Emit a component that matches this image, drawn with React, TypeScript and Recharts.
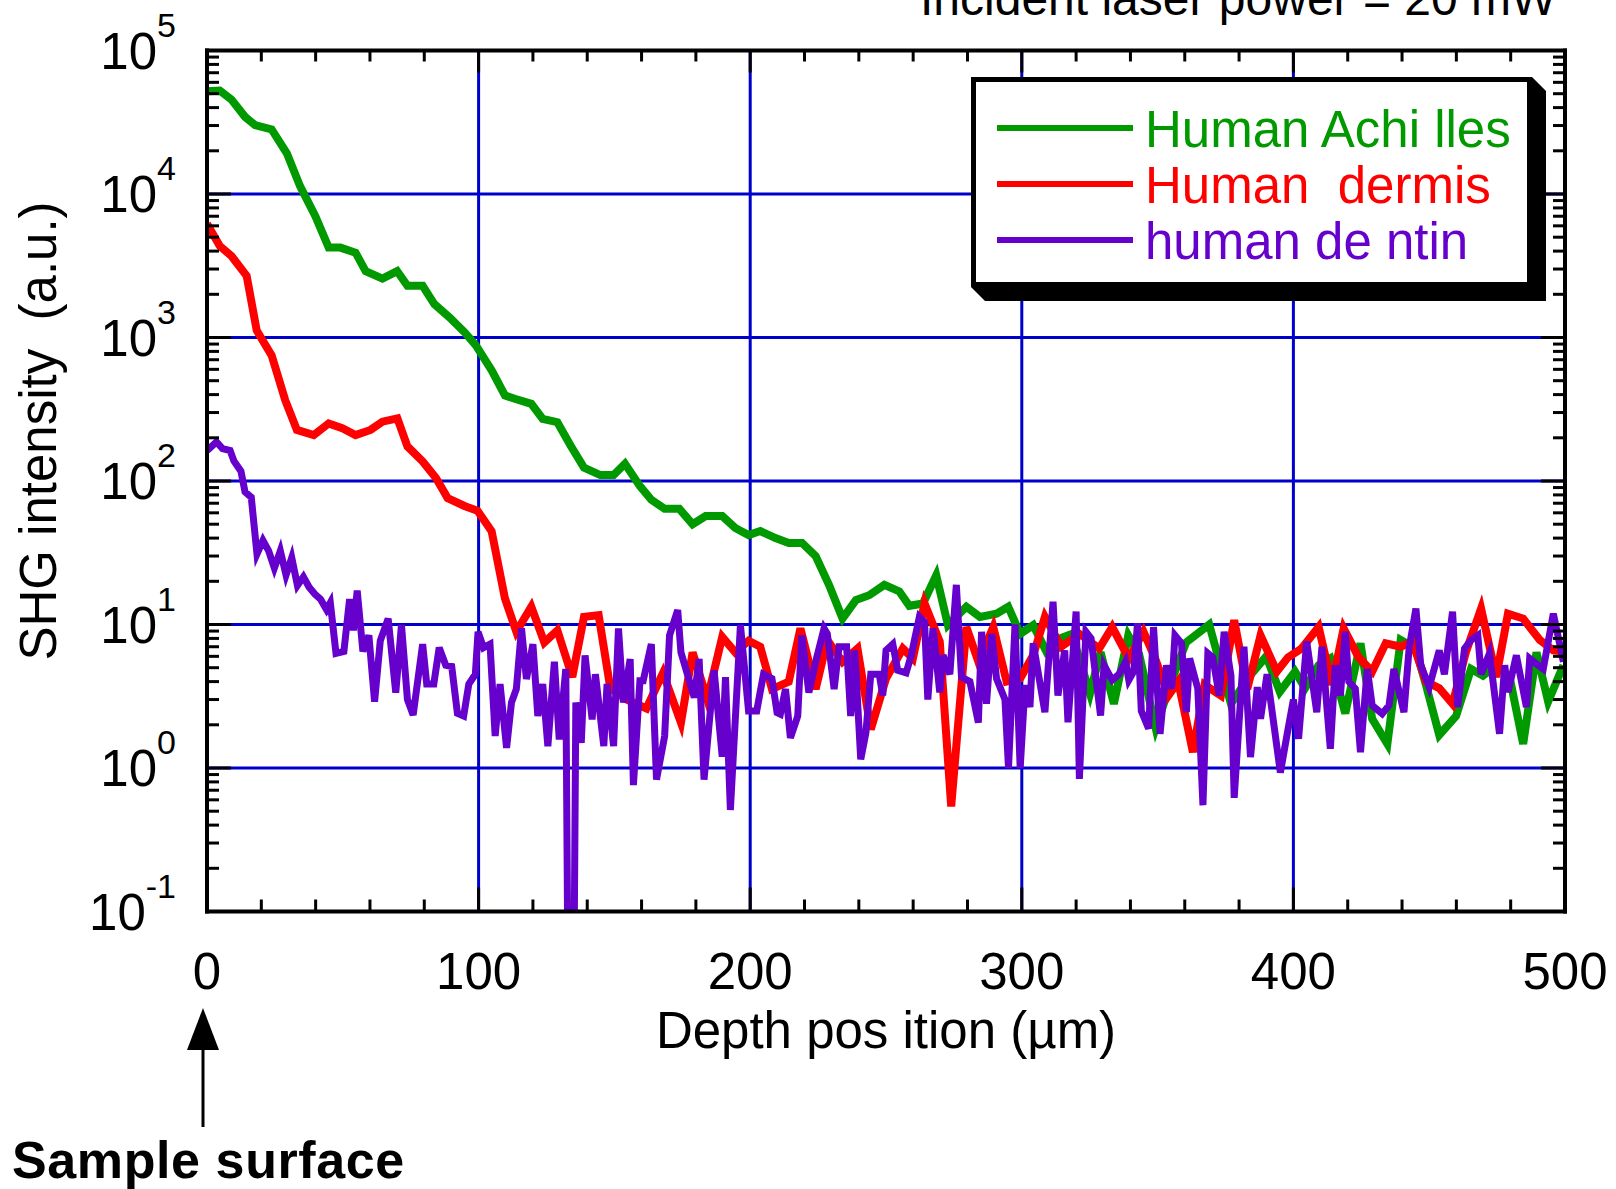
import { LineChart, Line, XAxis, YAxis, CartesianGrid, Legend } from 'recharts';

const FONT = '"Liberation Sans", Arial, Helvetica, sans-serif';

// depth position (µm) and SHG intensity (a.u.)
const achillesDepth = [
  0, 4.7, 9, 14, 17.7, 23.8, 29.4, 34.3, 39.9, 44.8,
  49.1, 54.7, 58.4, 64.6, 70, 73.8, 79.4, 83.7, 89.3, 94.8,
  99, 104.8, 109.7, 113.3, 119.4, 123.6, 129, 133.9, 138.8, 144.8,
  149.7, 153.9, 159.4, 163.6, 168.5, 173.9, 178.8, 183.6, 189.7, 194.5,
  199.4, 203.7, 209.3, 214.2, 219.1, 224.1, 229, 234, 238.9, 243.8,
  249.4, 254.9, 258.6, 263.6, 268.5, 272.8, 279.6, 284.6, 290.7, 295,
  299.4, 304.2, 309, 314, 318.4, 325.1, 329, 333.9, 339.2, 343.2,
  349.3, 355, 360.5, 369, 377, 384, 390, 395, 400.6, 404.3,
  409.3, 413.6, 419.1, 424.7, 429, 434.6, 439.5, 445, 448.8, 453.7,
  459.9, 465.4, 469.8, 474.7, 479.6, 484.6, 489.5, 493.8, 499.4,
];
const achillesShg = [
  52000, 52500, 45500, 34500, 30200, 28200, 19200, 11300, 7000, 4230,
  4230, 3900, 2900, 2570, 2900, 2290, 2290, 1710, 1380, 1090,
  880, 590, 395, 374, 345, 271, 257, 176, 124, 110,
  110, 132, 92, 74, 64, 64, 50, 57, 57, 47,
  42, 44.8, 40, 37, 37, 30, 18.9, 11, 14.8, 16,
  18.9, 17, 13.5, 14, 22, 9.9, 13.3, 11.3, 11.9, 13.3,
  8.6, 9.9, 6.5, 8.0, 8.6, 3.3, 6.4, 2.8, 8.4, 6.2,
  1.9, 4.0, 7.5, 10, 2.8, 4.4, 6.0, 3.4, 4.7, 3.6,
  5.2, 5.8, 2.4, 7.4, 2.2, 1.47, 7.8, 6.8, 3.8, 1.7,
  2.3, 4.9, 4.4, 5.2, 4.3, 1.47, 6.4, 2.9, 5.2,
];

const dermisDepth = [
  0, 4.7, 9, 14.6, 18.3, 23.8, 28.8, 33.1, 39.3, 44.8,
  49.8, 54.7, 60.2, 64.6, 70.1, 73.8, 79.4, 84.3, 88.6, 94.8,
  99.6, 104.8, 109.7, 113.9, 119.4, 124.2, 129, 134.5, 138.8, 144.2,
  148.5, 154.5, 161.8, 167.9, 174.5, 178.8, 184.2, 189.7, 194.5, 199.4,
  203.7, 208, 214.2, 218.5, 224.1, 228.4, 234, 239.5, 244.4, 250,
  256.2, 259.9, 264.2, 269.8, 274, 279.6, 284, 289.5, 294.4, 299.4,
  304.2, 308.5, 314.5, 321.2, 328.5, 333.3, 339.4, 344.8, 349.1, 354,
  357.6, 363, 367.3, 373.3, 378.2, 383, 387.9, 393.9, 398, 403,
  409.3, 414.2, 418.5, 424, 429, 434, 439.5, 443.8, 448.8, 453.7,
  458.6, 463.6, 469.1, 474.7, 479, 484.6, 490.7, 495.7, 499.4,
];
const dermisShg = [
  6200, 4340, 3700, 2690, 1120, 750, 366, 227, 209, 252,
  233, 209, 227, 259, 273, 174, 137, 105, 76, 67,
  62, 44.6, 15.2, 8.9, 13.3, 7.5, 9.1, 4.3, 11.3, 11.6,
  3.6, 3.0, 2.6, 4.6, 2.07, 6.4, 3.0, 8.2, 6.4, 7.7,
  7.0, 3.55, 4.0, 9.4, 3.55, 7.8, 5.5, 6.8, 1.86, 4.2,
  6.8, 5.8, 14, 7.6, 0.54, 9.6, 5.5, 9.6, 4.0, 4.2,
  6.1, 11.3, 7.0, 8.6, 6.8, 9.6, 5.8, 8.9, 5.8, 3.2,
  4.0, 1.29, 3.8, 3.2, 10.7, 3.55, 8.4, 4.7, 5.9, 6.8,
  9.6, 3.8, 9.4, 5.9, 4.7, 7.4, 7.0, 7.6, 4.0, 3.6,
  2.8, 6.5, 12.9, 4.3, 11.9, 11, 7.8, 6.6, 6.5,
];

const dentinDepth = [
  0, 3.5, 5.7, 8.5, 9.9, 12.5, 14, 16.3, 18.4, 20.6,
  22.7, 24.8, 27, 29.1, 31.2, 33.3, 35.5, 37.6, 39.7, 41.8,
  44, 45.4, 47.5, 50.4, 52.5, 53.9, 55.3, 57.4, 59.6, 61.7,
  63.8, 66.7, 69.5, 71.6, 73.8, 75.9, 79.4, 80.9, 83.5, 85.5,
  87.9, 90.1, 92.2, 94.5, 96.4, 98.8, 99.8, 101.8, 104.2, 106.1,
  107.9, 110.3, 112.1, 113.9, 115.8, 117.6, 120, 121.8, 123.6, 125.5,
  127.9, 129.7, 132.1, 133.1, 134.9, 135.8, 137.8, 139.2, 141.8, 143,
  146.1, 147.3, 149.7, 151.5, 153.3, 155.8, 157, 159.4, 160.6, 163.6,
  165.5, 168.5, 170.3, 173.3, 174.5, 179.4, 181.2, 183, 186.7, 189.7,
  190.9, 192.7, 196.4, 199.4, 202.4, 204.9, 208, 209.9, 211.1, 213,
  214.8, 217.5, 219, 221.6, 224.1, 227.2, 228.4, 230.9, 232.7, 235.5,
  237, 238.5, 240.7, 242.6, 244.4, 247.5, 248.8, 250, 252.5, 254.3,
  257.4, 259.3, 262.3, 264.2, 265.4, 267.3, 269.8, 271, 273.5, 275.9,
  277.8, 280.9, 284, 285.2, 287, 288.9, 290.7, 293.8, 295.1, 297.5,
  299.4, 301.2, 303, 304.2, 308.5, 311.5, 313.3, 315.8, 317, 320,
  321.2, 323.6, 325.5, 329, 330.3, 333.3, 335.8, 338.2, 339.4, 341.2,
  342.6, 344, 346.7, 348.5, 350.9, 353.3, 355.2, 356.4, 358.8, 360.6,
  361.8, 364.8, 366.7, 368.5, 370.3, 372.7, 374.5, 377, 378.2, 381.8,
  384.2, 386.7, 387.9, 390.3, 395.2, 397.6, 400, 401.9, 404.9, 408.6,
  410.5, 413.6, 415.4, 417.3, 419.1, 420.4, 422.8, 424.7, 427.2, 429,
  432.7, 435.2, 437, 440.7, 442.6, 445.1, 446.9, 450, 453.7, 455.6,
  458.6, 460.5, 463, 465.4, 467.9, 469.1, 472.2, 475.9, 477.8, 479,
  482.1, 485.8, 487, 490.1, 492, 495.7, 499.4,
];
const dentinShg = [
  163, 187, 168, 163, 138, 117, 84, 77, 31, 38.5,
  32.6, 24.7, 32.6, 22.1, 29.2, 18.7, 21.5, 18.2, 16.3, 15,
  12.7, 14.2, 6.3, 6.5, 15, 9.1, 17.2, 6.5, 8.4, 2.9,
  7.7, 11, 3.35, 9.9, 3.0, 2.34, 7.3, 3.85, 3.85, 6.9,
  5.2, 5.1, 2.4, 2.3, 3.85, 4.5, 8.9, 6.9, 7.3, 1.67,
  3.85, 1.38, 2.86, 3.55, 9.4, 4.17, 7.3, 2.3, 3.85, 1.42,
  5.5, 1.58, 4.9, 0.01, 0.01, 2.86, 1.5, 6.1, 2.18, 4.5,
  1.42, 3.85, 1.42, 9.4, 2.86, 5.75, 0.76, 4.06, 4.06, 7.3,
  0.83, 1.67, 8.4, 12.6, 6.4, 3.1, 5.75, 0.83, 4.8, 1.2,
  4.3, 0.51, 9.9, 2.5, 2.5, 4.5, 4.2, 2.43, 2.37, 3.55,
  1.62, 2.3, 8.4, 3.36, 5.5, 9.4, 8.6, 3.55, 7.0, 7.0,
  2.3, 6.6, 1.15, 1.76, 4.5, 4.5, 3.2, 6.6, 7.3, 4.8,
  4.6, 6.1, 11.3, 10.4, 3.0, 9.4, 3.36, 6.1, 4.5, 18.9,
  4.3, 4.0, 2.07, 8.9, 2.8, 8.6, 4.2, 3.0, 1.0, 10,
  1.0, 3.77, 2.66, 7.4, 2.45, 14.4, 3.2, 6.6, 2.08, 12.3,
  0.84, 8.9, 8.0, 2.32, 5.2, 4.1, 4.5, 5.5, 4.1, 4.7,
  10.2, 2.5, 1.88, 9.6, 1.73, 5.2, 3.57, 8.4, 7.4, 2.45,
  5.8, 3.57, 0.55, 6.3, 5.9, 3.2, 8.9, 4.4, 0.62, 7.0,
  1.19, 3.66, 2.2, 4.5, 0.93, 1.68, 3.0, 1.6, 7.6, 2.45,
  7.0, 1.36, 5.2, 3.2, 8.9, 4.0, 3.57, 1.29, 4.9, 2.73,
  2.39, 2.73, 4.9, 2.45, 6.8, 12.9, 5.2, 3.66, 6.6, 4.5,
  12.3, 2.66, 6.8, 7.8, 8.4, 4.5, 6.3, 1.73, 5.2, 3.38,
  6.1, 2.66, 5.8, 5.2, 4.9, 11.9, 5.5,
];

// series names, in legend order
const seriesNames = ['Human Achi lles', 'Human  dermis', 'human de ntin'];

// axis ticks
const depthTicks = [
  0, 20, 40, 60, 80, 100, 120, 140, 160, 180, 200, 220, 240,
  260, 280, 300, 320, 340, 360, 380, 400, 420, 440, 460, 480, 500,
];
const depthGrid = [100, 200, 300, 400];
const decades = [0.1, 1, 10, 100, 1000, 10000, 100000];
const decadeGrid = [1, 10, 100, 1000, 10000];
const minorSteps = [2, 3, 4, 5, 6, 7, 8, 9];
const shgTicks = [
  ...decades,
  ...decades.slice(0, -1).flatMap((d) => minorSteps.map((m) => d * m)),
].sort((a, b) => a - b);

const zip = (xs: number[], ys: number[]) => xs.map((x, i) => ({ depth: x, shg: ys[i] }));
const achilles = zip(achillesDepth, achillesShg);
const dermis = zip(dermisDepth, dermisShg);
const dentin = zip(dentinDepth, dentinShg);

const GREEN = '#009900';
const RED = '#ff0000';
const PURPLE = '#6600cc';
const GRID = '#0000cc';

const isDecade = (v: number) => Math.abs(Math.log10(v) - Math.round(Math.log10(v))) < 1e-6;
const isEdgeY = (v: number) => v < 0.1001 || v > 99999;

function BottomTick({ x, y, payload }: any) {
  const v = payload.value;
  const major = v % 100 === 0;
  const edge = v === 0 || v === 500;
  return (
    <g>
      {!edge && <line x1={x} x2={x} y1={y} y2={y - (major ? 24 : 12)} stroke="#000" strokeWidth={3} />}
      {major && (
        <text x={x} y={y + 77} textAnchor="middle" fontSize={51} fontFamily={FONT} fill="#000">
          {v}
        </text>
      )}
    </g>
  );
}

function TopTick({ x, y, payload }: any) {
  const v = payload.value;
  if (v === 0 || v === 500) return <g />;
  const major = v % 100 === 0;
  return <line x1={x} x2={x} y1={y} y2={y + (major ? 22 : 11)} stroke="#000" strokeWidth={3} />;
}

function LeftTick({ x, y, payload }: any) {
  const v = payload.value;
  const major = isDecade(v);
  const exp = Math.round(Math.log10(v));
  return (
    <g>
      {!isEdgeY(v) && <line x1={x} x2={x + (major ? 24 : 12)} y1={y} y2={y} stroke="#000" strokeWidth={3} />}
      {major && (
        <text x={176} y={y + 18} textAnchor="end" fontSize={51} fontFamily={FONT} fill="#000">
          <tspan>10</tspan>
          <tspan dy={-32} fontSize={34}>{exp}</tspan>
        </text>
      )}
    </g>
  );
}

function RightTick({ x, y, payload }: any) {
  const v = payload.value;
  if (isEdgeY(v)) return <g />;
  const major = isDecade(v);
  return <line x1={x} x2={x - (major ? 24 : 12)} y1={y} y2={y} stroke="#000" strokeWidth={3} />;
}

function LegendBox({ payload }: any) {
  const w = 561;
  const h = 210;
  const d = 14;
  const rows = [...(payload || [])].sort(
    (a: any, b: any) => seriesNames.indexOf(a.value) - seriesNames.indexOf(b.value)
  );
  return (
    <svg width={w + d + 2} height={h + d + 2} style={{ display: 'block' }}>
      <polygon points={`${w},0 ${w + d},${d} ${w + d},${h + d} ${d},${h + d} 0,${h}`} fill="#000" />
      <rect x={2.5} y={2.5} width={w - 5} height={h - 5} fill="#fff" stroke="#000" strokeWidth={5} />
      {rows.map((entry: any, i: number) => {
        const cy = 51 + i * 56;
        return (
          <g key={entry.value}>
            <line x1={26} x2={162} y1={cy} y2={cy} stroke={entry.color} strokeWidth={6} />
            <text
              x={174}
              y={cy + 18.5}
              fontSize={51}
              fontFamily={FONT}
              fill={entry.color}
              style={{ whiteSpace: 'pre' }}
            >
              {entry.value}
            </text>
          </g>
        );
      })}
    </svg>
  );
}

export default function App() {
  return (
    <div
      style={{
        position: 'absolute',
        left: 0,
        top: 0,
        width: 1616,
        height: 1189,
        background: '#fff',
        overflow: 'hidden',
      }}
    >
      <LineChart width={1616} height={1189} margin={{ top: 0, right: 0, bottom: 0, left: 0 }}>
        <CartesianGrid
          xAxisId="b"
          yAxisId="l"
          stroke={GRID}
          strokeWidth={3}
          verticalValues={depthGrid}
          horizontalValues={decadeGrid}
        />
        <XAxis
          xAxisId="b"
          type="number"
          dataKey="depth"
          domain={[0, 500]}
          allowDataOverflow
          ticks={depthTicks}
          interval={0}
          height={277.5}
          tickSize={0}
          tickMargin={0}
          tickLine={false}
          axisLine={{ stroke: '#000', strokeWidth: 4, strokeLinecap: 'square' }}
          tick={(p: any) => <BottomTick {...p} />}
        />
        <XAxis
          xAxisId="t"
          orientation="top"
          type="number"
          dataKey="depth"
          domain={[0, 500]}
          allowDataOverflow
          ticks={depthTicks}
          interval={0}
          height={50.5}
          tickSize={0}
          tickMargin={0}
          tickLine={false}
          axisLine={{ stroke: '#000', strokeWidth: 4, strokeLinecap: 'square' }}
          tick={(p: any) => <TopTick {...p} />}
        />
        <YAxis
          yAxisId="l"
          type="number"
          scale="log"
          dataKey="shg"
          domain={[0.1, 100000]}
          allowDataOverflow
          ticks={shgTicks}
          interval={0}
          width={207}
          tickSize={0}
          tickMargin={0}
          tickLine={false}
          axisLine={{ stroke: '#000', strokeWidth: 4, strokeLinecap: 'square' }}
          tick={(p: any) => <LeftTick {...p} />}
        />
        <YAxis
          yAxisId="r"
          orientation="right"
          type="number"
          scale="log"
          dataKey="shg"
          domain={[0.1, 100000]}
          allowDataOverflow
          ticks={shgTicks}
          interval={0}
          width={51}
          tickSize={0}
          tickMargin={0}
          tickLine={false}
          axisLine={{ stroke: '#000', strokeWidth: 4, strokeLinecap: 'square' }}
          tick={(p: any) => <RightTick {...p} />}
        />
        <Line
          xAxisId="b"
          yAxisId="l"
          data={achilles}
          dataKey="shg"
          name={seriesNames[0]}
          stroke={GREEN}
          strokeWidth={8}
          dot={false}
          isAnimationActive={false}
        />
        <Line
          xAxisId="b"
          yAxisId="l"
          data={dermis}
          dataKey="shg"
          name={seriesNames[1]}
          stroke={RED}
          strokeWidth={8}
          dot={false}
          isAnimationActive={false}
        />
        <Line
          xAxisId="b"
          yAxisId="l"
          data={dentin}
          dataKey="shg"
          name={seriesNames[2]}
          stroke={PURPLE}
          strokeWidth={7}
          dot={false}
          isAnimationActive={false}
        />
        <Legend
          layout="vertical"
          align="center"
          verticalAlign="middle"
          content={(p: any) => <LegendBox {...p} />}
          wrapperStyle={{ left: 971, top: 77, width: 580, height: 230 }}
        />
      </LineChart>

      <svg
        width={1616}
        height={1189}
        style={{ position: 'absolute', left: 0, top: 0, pointerEvents: 'none' }}
      >
        <text x={920} y={14.5} fontSize={48} fontFamily={FONT} fill="#000">
          Incident laser power = 20 mW
        </text>
        <text x={886} y={1048} textAnchor="middle" fontSize={51} fontFamily={FONT} fill="#000" style={{ whiteSpace: 'pre' }}>
          Depth pos ition (µm)
        </text>
        <text
          transform="translate(56, 431) rotate(-90)"
          textAnchor="middle"
          fontSize={51}
          fontFamily={FONT}
          fill="#000"
          style={{ whiteSpace: 'pre' }}
        >
          SHG intensity  (a.u.)
        </text>
        <line x1={203} x2={203} y1={1127} y2={1046} stroke="#000" strokeWidth={3} />
        <polygon points="203,1008 187,1050 219,1050" fill="#000" />
        <text x={12} y={1178} fontSize={52} fontWeight="bold" fontFamily={FONT} fill="#000" letterSpacing={0.6}>
          Sample surface
        </text>
      </svg>
    </div>
  );
}
